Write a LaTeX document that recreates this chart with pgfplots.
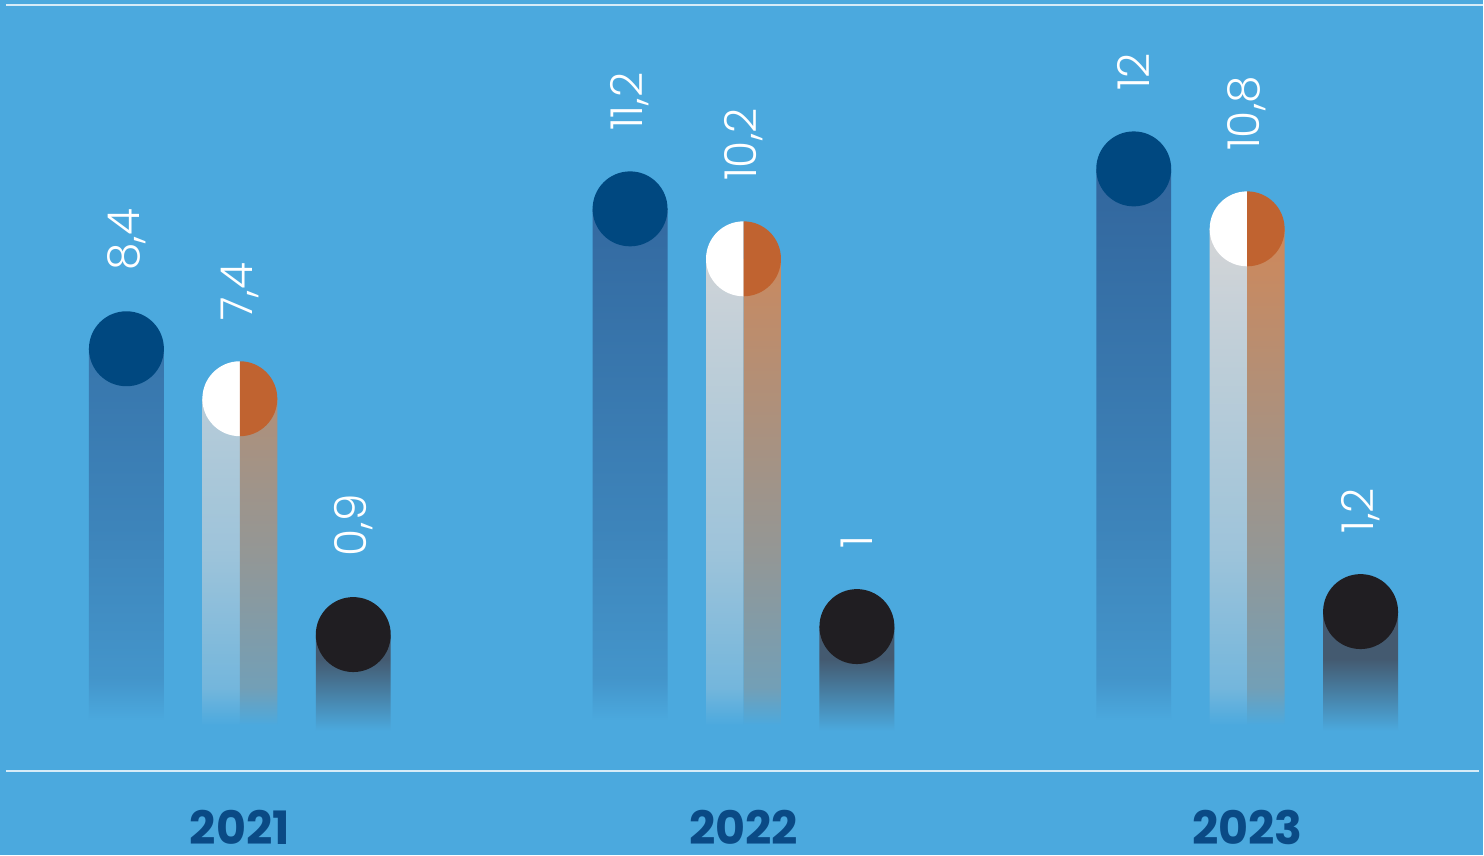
\documentclass[border=0pt]{standalone}
\usepackage{pgfplots}
\pgfplotsset{compat=1.18}
\usepackage{pgfplotstable}
\usepackage{fontspec}
\setmainfont{Poppins}
\newfontfamily\numfont{Poppins Light}

\definecolor{bgc}{HTML}{4BA9DE}
\definecolor{dkblue}{HTML}{004880}
\definecolor{barblue}{HTML}{32669D}
\definecolor{orng}{HTML}{C06330}
\definecolor{barorng}{HTML}{CF885A}
\definecolor{barwhite}{HTML}{D4D5D7}
\definecolor{blk}{HTML}{201E22}
\definecolor{barblk}{HTML}{445A70}
\definecolor{yearc}{HTML}{0A4A85}
\definecolor{linec}{HTML}{D6ECF8}

\colorlet{blueA}{barblue!30!bgc}
\colorlet{blueB}{barblue!55!bgc}
\colorlet{orngA}{barorng!30!bgc}
\colorlet{orngB}{barorng!55!bgc}
\colorlet{whtA}{barwhite!30!bgc}
\colorlet{whtB}{barwhite!60!bgc}

\pgfdeclareverticalshading{shblue}{100bp}{color(0bp)=(bgc); color(29bp)=(bgc); color(32.5bp)=(blueA); color(45bp)=(blueB); color(75bp)=(barblue); color(100bp)=(barblue)}
\pgfdeclareverticalshading{shorng}{100bp}{color(0bp)=(bgc); color(29bp)=(bgc); color(32.5bp)=(orngA); color(45bp)=(orngB); color(75bp)=(barorng); color(100bp)=(barorng)}
\pgfdeclareverticalshading{shwht}{100bp}{color(0bp)=(bgc); color(29bp)=(bgc); color(32.5bp)=(whtA); color(45bp)=(whtB); color(75bp)=(barwhite); color(100bp)=(barwhite)}
\pgfdeclareverticalshading{shblk}{100bp}{color(0bp)=(bgc); color(37bp)=(bgc); color(60bp)=(barblk); color(100bp)=(barblk)}

\pgfdeclareplotmark{halfL}{\pgfpathmoveto{\pgfqpoint{0pt}{\pgfplotmarksize}}\pgfpatharc{90}{270}{\pgfplotmarksize}\pgfpathclose\pgfusepathqfill}
\pgfdeclareplotmark{halfR}{\pgfpathmoveto{\pgfqpoint{0pt}{-\pgfplotmarksize}}\pgfpatharc{-90}{90}{\pgfplotmarksize}\pgfpathclose\pgfusepathqfill}
\pgfdeclareplotmark{disc}{\pgfpathcircle{\pgfpointorigin}{\pgfplotmarksize}\pgfusepathqfill}

\pgfplotstableread{
x val lab
0 8.4 8,4
1 11.2 11,2
2 12 12
}\tblblue
\pgfplotstableread{
x val lab
0 7.4 7,4
1 10.2 10,2
2 10.8 10,8
}\tblorng
\pgfplotstableread{
x val pos lab
0 0.9 2.68 0,9
1 1 2.84 1
2 1.2 3.14 1,2
}\tblblk

\begin{document}
\begin{tikzpicture}
\begin{axis}[
  width=742pt, height=428pt, scale only axis,
  xmin=-0.4762, xmax=2.4683, ymin=-1.74, ymax=15.38,
  enlargelimits=false, clip=false,
  axis line style={draw=none}, ticks=none,
  axis background/.style={fill=bgc},
  labelstyle/.style={nodes near coords, point meta=explicit symbolic,
    every node near coord/.append style={rotate=90, anchor=west, text=white, overlay,
      font=\numfont\fontsize{22}{22}\selectfont, inner xsep=39pt, inner ysep=0pt, outer sep=0pt}},
]
% bars
\addplot[ybar, bar width=37.5pt, bar shift=0pt, draw=none, shade, shading=shblue]
  table[x expr=\thisrow{x}-0.2252, y=val]{\tblblue};
\addplot[ybar, bar width=18.75pt, bar shift=-9.375pt, draw=none, shade, shading=shwht]
  table[x=x, y=val]{\tblorng};
\addplot[ybar, bar width=18.75pt, bar shift=9.375pt, draw=none, shade, shading=shorng]
  table[x=x, y=val]{\tblorng};
\addplot[ybar, bar width=37.5pt, bar shift=0pt, draw=none, shade, shading=shblk]
  table[x expr=\thisrow{x}+0.2252, y=pos]{\tblblk};
% circles
\addplot[only marks, mark=disc, mark size=18.75pt, mark options={fill=dkblue}, labelstyle]
  table[x expr=\thisrow{x}-0.2252, y=val, meta=lab]{\tblblue};
\addplot[only marks, mark=halfL, mark size=18.75pt, mark options={fill=white}]
  table[x=x, y=val]{\tblorng};
\addplot[only marks, mark=halfR, mark size=18.75pt, mark options={fill=orng}, labelstyle]
  table[x=x, y=val, meta=lab]{\tblorng};
\addplot[only marks, mark=disc, mark size=18.75pt, mark options={fill=blk}, labelstyle]
  table[x expr=\thisrow{x}+0.2252, y=pos, meta=lab]{\tblblk};
% rules
\draw[linec, line width=1pt] (axis cs:-0.4643,15.28) -- (axis cs:2.4683,15.28);
\draw[linec, line width=1pt] (axis cs:-0.4643,-0.06) -- (axis cs:2.4603,-0.06);
% years
\node[inner sep=0pt, font=\bfseries\fontsize{23}{23}\selectfont, text=yearc] at (axis cs:0,-1.18) {2021};
\node[inner sep=0pt, font=\bfseries\fontsize{23}{23}\selectfont, text=yearc] at (axis cs:1,-1.18) {2022};
\node[inner sep=0pt, font=\bfseries\fontsize{23}{23}\selectfont, text=yearc] at (axis cs:2,-1.18) {2023};
\end{axis}
\end{tikzpicture}
\end{document}
